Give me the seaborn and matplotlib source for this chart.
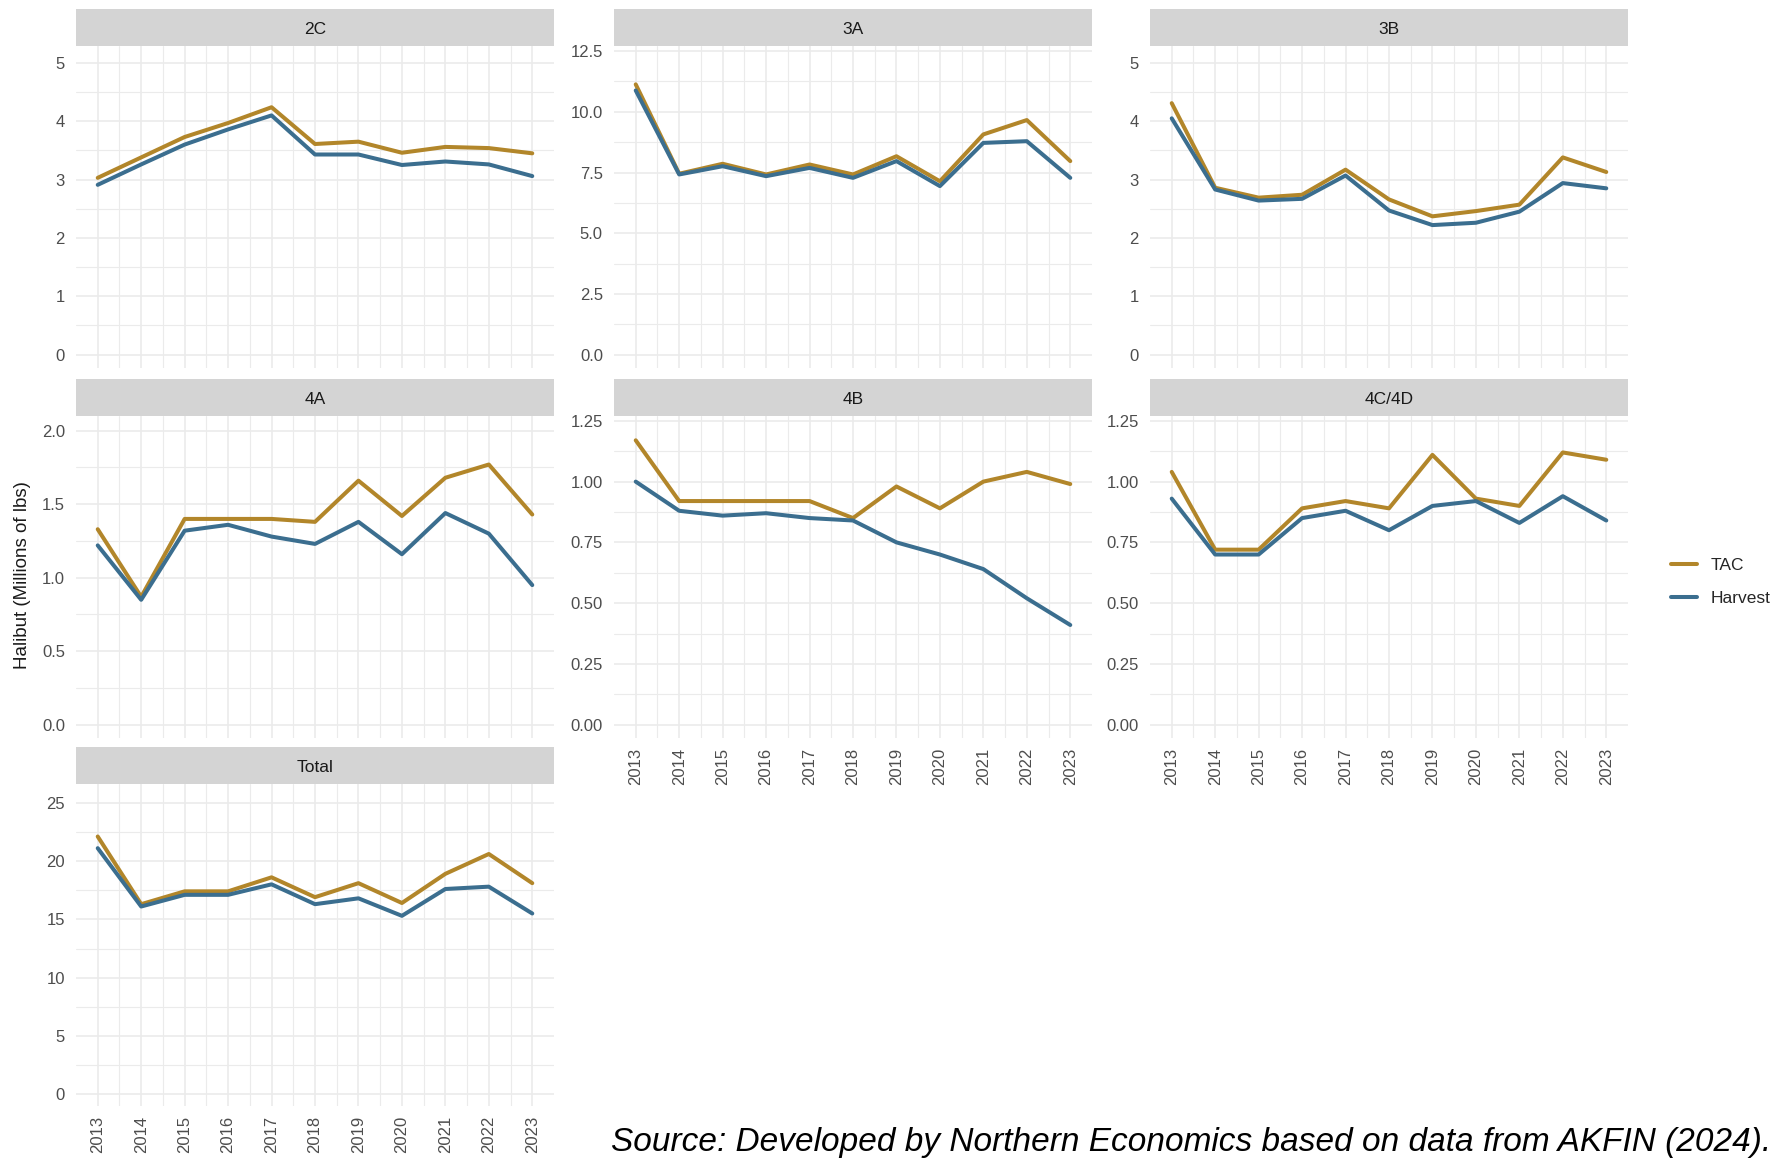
import numpy as np
import pandas as pd
import seaborn as sns
import matplotlib.pyplot as plt
from matplotlib.lines import Line2D

sns.set_style("white")
plt.rcParams['font.family'] = ['Liberation Sans', 'DejaVu Sans']

# data (millions of lbs)
years = list(range(2013, 2024))
areas = ["2C", "3A", "3B", "4A", "4B", "4C/4D", "Total"]

tac_2c = [3.03, 3.38, 3.73, 3.97, 4.24, 3.61, 3.65, 3.46, 3.56, 3.54, 3.45]
harv_2c = [2.91, 3.26, 3.60, 3.86, 4.10, 3.43, 3.43, 3.25, 3.31, 3.26, 3.06]
tac_3a = [11.13, 7.45, 7.86, 7.42, 7.83, 7.42, 8.17, 7.14, 9.07, 9.66, 7.97]
harv_3a = [10.88, 7.42, 7.76, 7.35, 7.69, 7.28, 7.97, 6.94, 8.72, 8.79, 7.28]
tac_3b = [4.31, 2.86, 2.69, 2.74, 3.17, 2.66, 2.37, 2.46, 2.57, 3.38, 3.13]
harv_3b = [4.05, 2.83, 2.64, 2.67, 3.07, 2.47, 2.22, 2.26, 2.45, 2.94, 2.85]
tac_4a = [1.33, 0.87, 1.40, 1.40, 1.40, 1.38, 1.66, 1.42, 1.68, 1.77, 1.43]
harv_4a = [1.22, 0.85, 1.32, 1.36, 1.28, 1.23, 1.38, 1.16, 1.44, 1.30, 0.95]
tac_4b = [1.17, 0.92, 0.92, 0.92, 0.92, 0.85, 0.98, 0.89, 1.00, 1.04, 0.99]
harv_4b = [1.00, 0.88, 0.86, 0.87, 0.85, 0.84, 0.75, 0.70, 0.64, 0.52, 0.41]
tac_4cd = [1.04, 0.72, 0.72, 0.89, 0.92, 0.89, 1.11, 0.93, 0.90, 1.12, 1.09]
harv_4cd = [0.93, 0.70, 0.70, 0.85, 0.88, 0.80, 0.90, 0.92, 0.83, 0.94, 0.84]
tac_total = [22.1, 16.3, 17.4, 17.4, 18.6, 16.9, 18.1, 16.4, 18.9, 20.6, 18.1]
harv_total = [21.1, 16.1, 17.1, 17.1, 18.0, 16.3, 16.8, 15.3, 17.6, 17.8, 15.5]

tac = [tac_2c, tac_3a, tac_3b, tac_4a, tac_4b, tac_4cd, tac_total]
harv = [harv_2c, harv_3a, harv_3b, harv_4a, harv_4b, harv_4cd, harv_total]

rows = []
for a, t, h in zip(areas, tac, harv):
    for y, tv, hv in zip(years, t, h):
        rows.append((a, y, "TAC", tv))
        rows.append((a, y, "Harvest", hv))
df = pd.DataFrame(rows, columns=["area", "year", "series", "value"])

pal = {"TAC": "#B2862A", "Harvest": "#3B6E8F"}

# y axis setup per panel: (limits, step of major breaks, decimals)
yset = {
    "2C": ((-0.23, 5.29), 1, 0),
    "3A": ((-0.55, 12.71), 2.5, 1),
    "3B": ((-0.23, 5.29), 1, 0),
    "4A": ((-0.09, 2.10), 0.5, 1),
    "4B": ((-0.055, 1.27), 0.25, 2),
    "4C/4D": ((-0.055, 1.27), 0.25, 2),
    "Total": ((-1.0, 26.6), 5, 0),
}

W, H = 1785, 1159
fig = plt.figure(figsize=(W / 100, H / 100), dpi=100)

col_left = [76, 614, 1150]
pw, ph, sh = 478, 322, 37
row_top = [46, 416, 784]  # top of plotting area (strip sits above)
with_xlab = ["4B", "4C/4D", "Total"]

for i, a in enumerate(areas):
    r, c = divmod(i, 3)
    l, t = col_left[c], row_top[r]
    ax = fig.add_axes([l / W, 1 - (t + ph) / H, pw / W, ph / H])
    sub = df[df.area == a]
    sns.lineplot(data=sub, x="year", y="value", hue="series", palette=pal,
                 hue_order=["TAC", "Harvest"], lw=2.9, ax=ax, legend=False)
    lim, step, dec = yset[a]
    ax.set_ylim(*lim)
    ax.set_xlim(2012.5, 2023.5)
    maj = np.arange(0, lim[1] + 1e-9, step)
    ax.set_yticks(maj)
    ax.set_yticklabels([f"{v:.{dec}f}" for v in maj])
    ax.set_yticks(maj[:-1] + step / 2, minor=True)
    ax.set_xticks(years)
    ax.set_xticks(np.array(years[:-1]) + 0.5, minor=True)
    ax.grid(which="major", color="#EBEBEB", lw=1.2)
    ax.grid(which="minor", color="#EBEBEB", lw=0.8)
    ax.set_axisbelow(True)
    for s in ax.spines.values():
        s.set_visible(False)
    ax.tick_params(which="both", length=0)
    ax.tick_params(axis="y", labelsize=12, labelcolor="#4D4D4D", pad=8)
    if a in with_xlab:
        ax.set_xticklabels([str(y) for y in years], rotation=90)
        ax.tick_params(axis="x", labelsize=12, labelcolor="#4D4D4D", pad=7)
    else:
        ax.set_xticklabels([])
    ax.set_xlabel("")
    ax.set_ylabel("")

    sax = fig.add_axes([l / W, 1 - t / H, pw / W, sh / H])
    sax.set_facecolor("#D4D4D4")
    sax.set_xticks([])
    sax.set_yticks([])
    for s in sax.spines.values():
        s.set_visible(False)
    sax.text(0.5, 0.45, a, ha="center", va="center", fontsize=12.5, color="#1A1A1A",
             transform=sax.transAxes)

fig.text(23 / W, 1 - 575 / H, "Halibut (Millions of lbs)", rotation=90,
         ha="center", va="center", fontsize=13.5, color="#1A1A1A")

handles = [Line2D([0], [0], color=pal[k], lw=2.9) for k in ["TAC", "Harvest"]]
fig.legend(handles, ["TAC", "Harvest"], loc="center left",
           bbox_to_anchor=(1655 / W, 1 - 582 / H), frameon=False, fontsize=12.5,
           handlelength=1.5, labelspacing=1.0)

fig.text(611 / W, 1 - 1151 / H,
         "Source: Developed by Northern Economics based on data from AKFIN (2024).",
         ha="left", va="baseline", fontsize=24, style="italic", color="black")

fig.savefig("out.png", dpi=100)
